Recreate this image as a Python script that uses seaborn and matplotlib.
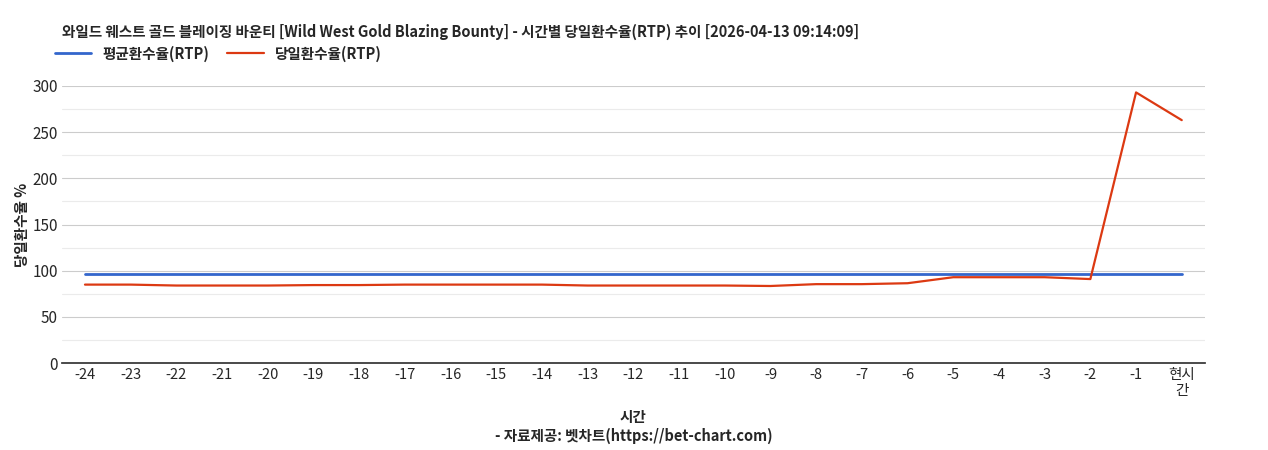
import matplotlib
matplotlib.use("Agg")
import matplotlib.pyplot as plt
import seaborn as sns
import pandas as pd

labels = [str(i) for i in range(-24, 0)] + ["현시\n간"]
avg_rtp = [96.5] * 25
day_rtp = [85, 85, 84, 84, 84, 84.5, 84.5, 85, 85, 85, 85, 84, 84, 84, 84, 83.5,
           85.5, 85.5, 86.5, 93, 93, 93, 91, 293, 263]

sns.set_theme(style="white")
plt.rcParams['font.family'] = ['Noto Sans CJK KR', 'DejaVu Sans']

df = pd.DataFrame({"x": range(len(labels)), "avg": avg_rtp, "day": day_rtp})
fig = plt.figure(figsize=(12.68, 4.5), dpi=100)
ax = fig.add_axes([0.049, 0.193, 0.901, 0.616])
for y in range(25, 300, 50):
    ax.axhline(y, color="#ebebeb", lw=0.8, zorder=0)
for y in range(50, 301, 50):
    ax.axhline(y, color="#cccccc", lw=0.8, zorder=0)
sns.lineplot(data=df, x="x", y="avg", ax=ax, color="#3366cc", lw=2, label="평균환수율(RTP)")
sns.lineplot(data=df, x="x", y="day", ax=ax, color="#dc3912", lw=1.6, label="당일환수율(RTP)")
ax.set_xlim(-0.5, 24.5)
ax.set_ylim(0, 300)
ax.set_yticks(range(0, 301, 50))
ax.set_xticks(range(len(labels)))
ax.set_xticklabels(labels, fontsize=10.5)
ax.tick_params(axis="y", labelsize=11, length=0, pad=3)
ax.tick_params(axis="x", length=0)
for s in ["top", "right", "left"]:
    ax.spines[s].set_visible(False)
ax.spines["bottom"].set_color("#333333")
ax.set_xlabel("시간\n- 자료제공: 벳차트(https://bet-chart.com)", fontsize=10.5, fontweight="bold", labelpad=8)
ax.set_ylabel("당일환수율 %", fontsize=10.5, fontweight="bold", labelpad=2)
ax.legend(loc="lower left", bbox_to_anchor=(-0.018, 1.04), ncol=2, frameon=False,
          prop={"weight": "bold", "size": 10.5}, handlelength=2.5, columnspacing=1.2)
fig.text(0.049, 0.918, "와일드 웨스트 골드 블레이징 바운티 [Wild West Gold Blazing Bounty] - 시간별 당일환수율(RTP) 추이 [2026-04-13 09:14:09]",
         fontsize=10.5, fontweight="bold")
fig.savefig("out.png", dpi=100)
